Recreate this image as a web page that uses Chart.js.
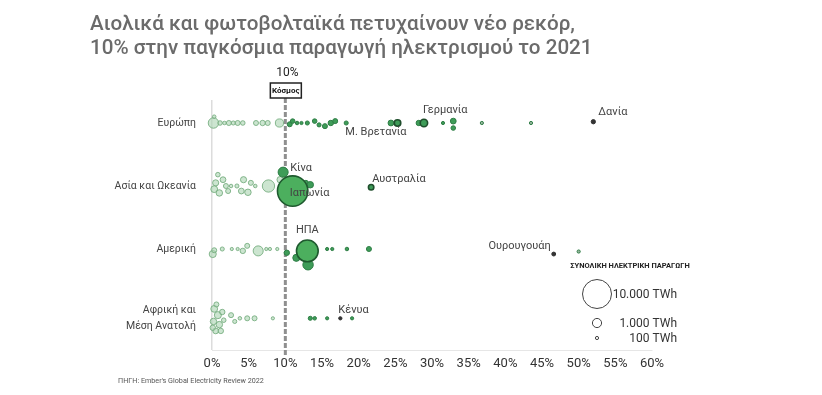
<!DOCTYPE html>
<html>
<head>
<meta charset="utf-8">
<script src="https://cdn.jsdelivr.net/npm/chart.js@4.4.0/dist/chart.umd.min.js"></script>
<style>
  body { margin: 0; background: #fff; }
  #wrap { position: relative; width: 822px; height: 395px; overflow: hidden; }
  #title { position: absolute; left: 90px; top: 11px; font-family: Roboto, sans-serif; font-weight: 500;
           font-size: 20.6px; line-height: 24px; color: #6b6b6b; z-index: 2; }
  #source { position: absolute; left: 118px; top: 376px; font-family: Roboto, sans-serif; font-size: 7.2px; color: #555; z-index: 2; }
</style>
</head>
<body>
<div id="wrap">
  <div id="title">Αιολικά και φωτοβολταϊκά πετυχαίνουν νέο ρεκόρ,<br>10% στην παγκόσμια παραγωγή ηλεκτρισμού το 2021</div>
  <div id="source">ΠΗΓΗ: Ember's Global Electricity Review 2022</div>
  <canvas id="chart" width="822" height="395"></canvas>
</div>
<script>
// regions (rows) and x ticks
const categories = ['Ευρώπη', 'Ασία και Ωκεανία', 'Αμερική', ['Αφρική και', 'Μέση Ανατολή']];
const rowPos = [0, 1, 2, 3.1];
const xTickValues = [0, 5, 10, 15, 20, 25, 30, 35, 40, 45, 50, 55, 60];
const worldShare = 10;

// share of wind + solar (%), total generation (TWh), vertical jitter (rows)
const europeShare  = [0.2, 0.3, 1.1, 1.7, 2.3, 2.9, 3.5, 4.2, 6.0, 6.9, 7.6, 9.2, 10.6, 11.0, 11.6, 12.2, 13.0, 14.0, 14.6, 15.4, 16.2, 16.8, 18.3, 24.4, 28.2, 31.5, 32.9, 32.9, 36.8, 43.5];
const europeTwh    = [1300, 150, 250, 150, 300, 200, 300, 250, 300, 350, 300, 800, 300, 250, 150, 120, 200, 250, 200, 300, 350, 300, 200, 400, 350, 120, 400, 250, 40, 30];
const europeOffset = [0, -0.1, 0, 0, 0, 0, 0, 0, 0, 0, 0, 0, 0.02, -0.03, 0, 0, 0, -0.03, 0.03, 0.05, 0, -0.03, 0, 0, 0, 0, -0.03, 0.08, 0, 0];

const asiaShare  = [0.5, 0.3, 1.0, 1.5, 1.9, 0.8, 2.2, 2.6, 3.4, 4.3, 4.0, 4.9, 5.3, 5.9, 7.7, 9.3, 12.8, 13.4];
const asiaTwh    = [450, 550, 500, 400, 300, 250, 300, 150, 200, 450, 400, 500, 300, 150, 1800, 500, 300, 500];
const asiaOffset = [-0.05, 0.05, 0.11, -0.1, 0, -0.18, 0.08, 0, 0, -0.1, 0.08, 0.1, -0.05, 0, 0, -0.1, -0.05, -0.02];

const americaShare  = [0.1, 0.3, 1.4, 2.7, 3.5, 4.2, 4.8, 6.3, 7.4, 7.9, 8.9, 10.2, 11.5, 13.1, 14.0, 15.7, 16.4, 18.4, 21.4, 50.0];
const americaTwh    = [600, 300, 200, 60, 120, 350, 300, 1200, 120, 120, 60, 350, 600, 1300, 150, 100, 100, 150, 300, 30];
const americaOffset = [0.08, 0.02, 0, 0, 0, 0.03, -0.05, 0.03, 0, 0, 0, 0.06, 0.14, 0.25, 0, 0, 0, 0, 0, 0.04];

const africaShare  = [0.3, 0.8, 0.2, 1.0, 0.5, 1.4, 1.2, 0.6, 0.1, 1.6, 2.6, 3.1, 3.8, 4.8, 5.8, 8.3, 13.4, 14.0, 15.7, 19.1];
const africaTwh    = [550, 600, 500, 500, 400, 350, 350, 300, 350, 250, 300, 200, 150, 300, 300, 60, 200, 150, 120, 50];
const africaOffset = [-0.15, -0.05, 0.05, 0.1, 0.2, -0.1, 0.2, -0.22, 0.15, 0.03, -0.05, 0.05, 0, 0, 0, 0, 0, 0, 0, 0];

// named countries
const labelNames  = ['Γερμανία', 'Μ. Βρετανία', 'Δανία', 'Κίνα', 'Ιαπωνία', 'Αυστραλία', 'ΗΠΑ', 'Ουρουγουάη', 'Κένυα'];
const labelRow    = [0, 0, 0, 1, 1, 1, 2, 2, 3];
const labelShare  = [28.9, 25.3, 52.0, 9.7, 11.0, 21.7, 13.0, 46.6, 17.5];
const labelTwh    = [650, 500, 220, 1200, 11000, 350, 5600, 180, 130];
const labelOffset = [0, 0, -0.02, -0.22, 0.08, 0.02, 0.03, 0.08, 0];

// size legend
const legendTwh = [10000, 1000, 100];
const legendText = ['10.000 TWh', '1.000 TWh', '100 TWh'];

function radius(twh) {
  return Math.max(1.6, 14.5 * Math.sqrt(twh / 10000));
}

function buildPoints(row, shares, twh, offsets) {
  return shares.map((s, i) => ({ x: s, y: rowPos[row] + offsets[i], r: radius(twh[i]), twh: twh[i] }));
}

const darkNames = ['Δανία', 'Ουρουγουάη', 'Κένυα'];
const outlinedNames = ['Γερμανία', 'Μ. Βρετανία', 'Αυστραλία'];

function fillFor(p) {
  if (p.name && darkNames.includes(p.name)) return '#333';
  if (p.twh >= 3000) return '#4caf5e';
  if (p.x < 9.5) return 'rgba(170,212,176,0.6)';
  if (p.x > 35) return 'rgba(110,150,118,0.7)';
  return '#3e9c58';
}
function borderFor(p) {
  if (p.name && darkNames.includes(p.name)) return '#333';
  if (p.twh >= 3000) return '#1f5a2f';
  if (p.name && outlinedNames.includes(p.name)) return '#1f4d2c';
  if (p.x < 9.5) return 'rgba(115,172,125,0.85)';
  return '#2e7d45';
}

const namedPoints = labelNames.map((n, i) => ({
  x: labelShare[i], y: rowPos[labelRow[i]] + labelOffset[i], r: radius(labelTwh[i]), twh: labelTwh[i], name: n
}));

const pointStyle = {
  backgroundColor: c => fillFor(c.raw),
  borderColor: c => borderFor(c.raw),
  borderWidth: c => (c.raw.twh >= 3000 || (c.raw.name && outlinedNames.includes(c.raw.name))) ? 1.6 : 1,
  clip: false
};

// label placement next to their bubble: dx, dy, align
const labelPlace = {
  'Γερμανία':   [-1, -13, 'left'],
  'Μ. Βρετανία': [9, 9, 'right'],
  'Δανία':      [5, -9, 'left'],
  'Κίνα':       [7, -4, 'left'],
  'Ιαπωνία':    [-3, 2, 'left'],
  'Αυστραλία':  [1, -8, 'left'],
  'ΗΠΑ':        [0, -21, 'center'],
  'Ουρουγουάη': [-3, -8, 'right'],
  'Κένυα':      [-2, -8, 'left']
};

const annotations = {
  id: 'annotations',
  beforeDatasetsDraw(chart) {
    const { ctx, chartArea, scales } = chart;
    const x = scales.x.getPixelForValue(worldShare);
    ctx.save();
    ctx.strokeStyle = '#8f8f8f';
    ctx.lineWidth = 3;
    ctx.setLineDash([5, 2]);
    ctx.beginPath();
    ctx.moveTo(x, chartArea.top - 2);
    ctx.lineTo(x, chartArea.bottom + 6);
    ctx.stroke();
    ctx.restore();
  },
  afterDraw(chart) {
    const { ctx, scales } = chart;
    const xs = scales.x, ys = scales.y;
    const wx = xs.getPixelForValue(worldShare);
    ctx.save();
    // world marker
    ctx.fillStyle = '#222';
    ctx.font = '12px Roboto, sans-serif';
    ctx.textAlign = 'center';
    ctx.textBaseline = 'middle';
    ctx.fillText(worldShare + '%', wx + 2, 73);
    ctx.fillStyle = '#fff';
    ctx.fillRect(wx - 15, 83, 31, 15);
    ctx.strokeStyle = '#222';
    ctx.lineWidth = 1.5;
    ctx.strokeRect(wx - 15, 83, 31, 15);
    ctx.fillStyle = '#111';
    ctx.font = 'bold 8px Roboto, sans-serif';
    ctx.fillText('Κόσμος', wx + 0.5, 91);

    // country labels
    ctx.font = '11px Roboto, sans-serif';
    ctx.fillStyle = '#444';
    labelNames.forEach((n, i) => {
      const px = xs.getPixelForValue(labelShare[i]);
      const py = ys.getPixelForValue(rowPos[labelRow[i]] + labelOffset[i]);
      const [dx, dy, align] = labelPlace[n];
      ctx.textAlign = align;
      ctx.fillText(n, px + dx, py + dy);
    });

    // size legend
    ctx.fillStyle = '#222';
    ctx.font = 'bold 7.5px Roboto, sans-serif';
    ctx.textAlign = 'center';
    ctx.fillText('ΣΥΝΟΛΙΚΗ ΗΛΕΚΤΡΙΚΗ ΠΑΡΑΓΩΓΗ', 630, 266);
    const ly = [294, 323, 338];
    ctx.strokeStyle = '#444';
    ctx.lineWidth = 1;
    legendTwh.forEach((t, i) => {
      ctx.beginPath();
      ctx.arc(597, ly[i], radius(t), 0, Math.PI * 2);
      ctx.stroke();
      ctx.fillStyle = '#333';
      ctx.font = '12px Roboto, sans-serif';
      ctx.textAlign = 'right';
      ctx.fillText(legendText[i], 677, ly[i] + 1);
    });
    ctx.restore();
  }
};

new Chart(document.getElementById('chart'), {
  type: 'bubble',
  data: {
    datasets: [
      Object.assign({ data: namedPoints }, pointStyle),
      Object.assign({ data: buildPoints(0, europeShare, europeTwh, europeOffset) }, pointStyle),
      Object.assign({ data: buildPoints(1, asiaShare, asiaTwh, asiaOffset) }, pointStyle),
      Object.assign({ data: buildPoints(2, americaShare, americaTwh, americaOffset) }, pointStyle),
      Object.assign({ data: buildPoints(3, africaShare, africaTwh, africaOffset) }, pointStyle)
    ]
  },
  options: {
    responsive: false,
    animation: false,
    layout: { padding: { top: 100, right: 170, bottom: 0, left: 0 } },
    plugins: { legend: { display: false }, tooltip: { enabled: false } },
    scales: {
      x: {
        type: 'linear',
        min: 0,
        max: 60,
        afterBuildTicks: s => { s.ticks = xTickValues.map(v => ({ value: v })); },
        afterFit: s => { s.height = 45; },
        ticks: { callback: v => v + '%', color: '#333', font: { family: 'Roboto', size: 13 }, padding: 6, maxRotation: 0 },
        grid: { drawTicks: false, color: c => c.tick && c.tick.value === 0 ? '#dcdcdc' : 'transparent', lineWidth: 1.5 },
        border: { color: '#e6e6e6' }
      },
      y: {
        type: 'linear',
        reverse: true,
        min: -0.365,
        max: 3.603,
        afterBuildTicks: s => { s.ticks = rowPos.map(v => ({ value: v })); },
        afterFit: s => { s.width = 212; },
        ticks: {
          callback: (v, i) => categories[i],
          color: '#444',
          font: { family: 'Roboto', size: 10.5, lineHeight: 1.5 },
          padding: 16
        },
        grid: { display: false, drawTicks: false },
        border: { display: false }
      }
    }
  },
  plugins: [annotations]
});
</script>
</body>
</html>
